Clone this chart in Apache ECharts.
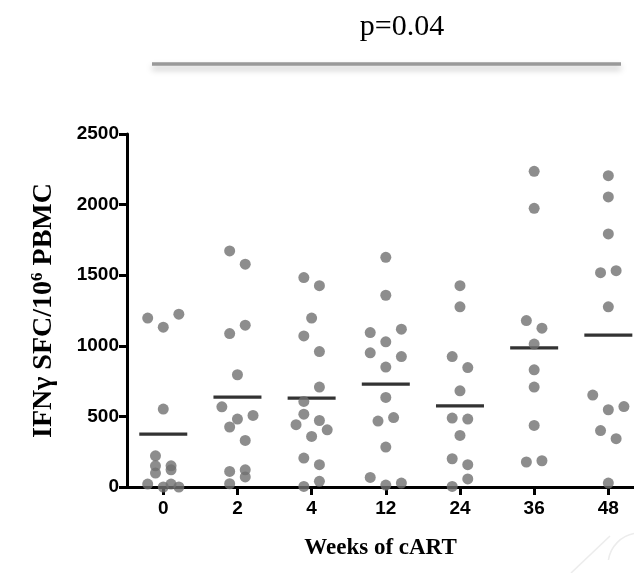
<!DOCTYPE html>
<html>
<head>
<meta charset="utf-8">
<script src="https://cdn.jsdelivr.net/npm/echarts@6/dist/echarts.min.js"></script>
<style>
  html, body { margin: 0; padding: 0; background: #fff; }
  #chart { width: 634px; height: 573px; }
</style>
</head>
<body>
<div id="chart"></div>
<script>
// IFN-gamma ELISpot responses per visit (SFC per million PBMC)
const weeks = ['0', '2', '4', '12', '24', '36', '48'];
const week0 = [1196, 1132, 1224, 552, 221, 150, 150, 99, 122, 21, 0, 21, 0];
const week2 = [1672, 1578, 1087, 1146, 795, 568, 481, 507, 425, 330, 110, 122, 71, 23];
const week4 = [1483, 1426, 1196, 1070, 959, 708, 606, 516, 441, 471, 358, 405, 205, 158, 40, 4];
const week12 = [1627, 1358, 1094, 1118, 1028, 950, 924, 849, 634, 467, 492, 283, 68, 14, 28];
const week24 = [1426, 1276, 924, 846, 681, 488, 481, 365, 200, 158, 57, 4];
const week36 = [2236, 1974, 1179, 1125, 1012, 830, 708, 436, 177, 186];
const week48 = [2205, 2054, 1792, 1518, 1532, 1276, 651, 547, 570, 400, 342, 28];
const groupMeans = [375, 637, 630, 729, 575, 986, 1075];
const yTicks = [0, 500, 1000, 1500, 2000, 2500];
const pValueText = 'p=0.04';

// Horizontal spread of the dots inside each column (column slot, -2..2)
const spread = [
  [-2, 0, 2, 0, -1, -1, 1, -1, 1, -2, 0, 1, 2],
  [-1, 1, -1, 1, 0, -2, 0, 2, -1, 1, -1, 1, 1, -1],
  [-1, 1, 0, -1, 1, 1, -1, -1, -2, 1, 0, 2, -1, 1, 1, -1],
  [0, 0, -2, 2, 0, -2, 2, 0, 0, -1, 1, 0, -2, 0, 2],
  [0, 0, -1, 1, 0, -1, 1, 0, -1, 1, 1, -1],
  [0, 0, -1, 1, 0, 0, 0, 0, -1, 1],
  [0, 0, 0, -1, 1, 0, -2, 0, 2, -1, 1, 0]
];
const slotStep = 0.105;

const groups = [week0, week2, week4, week12, week24, week36, week48];
const dots = [];
groups.forEach((vals, gi) => {
  vals.forEach((v, k) => dots.push([gi + spread[gi][k] * slotStep, v]));
});
const meanMarks = groupMeans.map((m, gi) => [gi, m]);
const colIdx = weeks.map((w, i) => i);

const tickFont = { fontFamily: 'Liberation Sans, Arial, sans-serif', fontWeight: 'bold', fontSize: 19, color: '#000' };
const titleFont = 'Liberation Serif, Times New Roman, serif';

const chart = echarts.init(document.getElementById('chart'), null, { renderer: 'canvas' });
chart.setOption({
  animation: false,
  backgroundColor: '#fff',
  grid: { left: 127, right: 0, top: 134, bottom: 86, containLabel: false },
  xAxis: {
    type: 'value',
    min: -0.489,
    max: 6.346,
    splitLine: { show: false },
    axisLine: { show: true, onZero: false, lineStyle: { color: '#000', width: 3 } },
    axisTick: { show: true, customValues: colIdx, length: 8, lineStyle: { color: '#000', width: 3 } },
    axisLabel: { show: true, customValues: colIdx, margin: 12, formatter: v => weeks[Math.round(v)], ...tickFont },
    name: 'Weeks of cART',
    nameLocation: 'middle',
    nameGap: 50,
    nameTextStyle: { fontFamily: titleFont, fontWeight: 'bold', fontSize: 23, color: '#000' }
  },
  yAxis: {
    type: 'value',
    min: 0,
    max: 2500,
    interval: 500,
    splitLine: { show: false },
    axisLine: { show: true, onZero: false, lineStyle: { color: '#000', width: 3 } },
    axisTick: { show: true, length: 8, lineStyle: { color: '#000', width: 3 } },
    axisLabel: { margin: 8, formatter: v => (yTicks.indexOf(v) >= 0 ? String(v) : ''), ...tickFont },
    name: '{t|IFNγ SFC/10}{s|6}{t| PBMC}',
    nameLocation: 'middle',
    nameRotate: 90,
    nameGap: 68,
    nameTextStyle: {
      rich: {
        t: { fontFamily: titleFont, fontWeight: 'bold', fontSize: 28, color: '#000', lineHeight: 30 },
        s: { fontFamily: titleFont, fontWeight: 'bold', fontSize: 17, color: '#000', lineHeight: 30, verticalAlign: 'top' }
      }
    }
  },
  graphic: [
    {
      type: 'text',
      x: 402, y: 27,
      style: { text: pValueText, fontFamily: titleFont, fontSize: 30, fill: '#000', align: 'center', verticalAlign: 'middle' }
    },
    {
      type: 'line',
      shape: { x1: 152, y1: 64, x2: 621, y2: 64 },
      style: { stroke: '#999', lineWidth: 3.5, shadowColor: 'rgba(0,0,0,0.25)', shadowBlur: 6, shadowOffsetY: 4 }
    },
    {
      type: 'line',
      shape: { x1: 571, y1: 573, x2: 610, y2: 536 },
      style: { stroke: '#ececec', lineWidth: 1.5 }
    },
    {
      type: 'arc',
      shape: { cx: 640, cy: 565, r: 32, startAngle: Math.PI * 1.05, endAngle: Math.PI * 1.45 },
      style: { stroke: '#ececec', lineWidth: 1.5, fill: 'none' }
    }
  ],
  series: [
    {
      type: 'scatter',
      data: meanMarks,
      symbol: 'rect',
      symbolSize: [48, 3.3],
      itemStyle: { color: '#000' },
      clip: false,
      z: 3,
      silent: true
    },
    {
      type: 'scatter',
      data: dots,
      symbol: 'circle',
      symbolSize: 11,
      itemStyle: { color: '#707070' },
      clip: false,
      z: 4,
      silent: true
    }
  ]
});
</script>
</body>
</html>
